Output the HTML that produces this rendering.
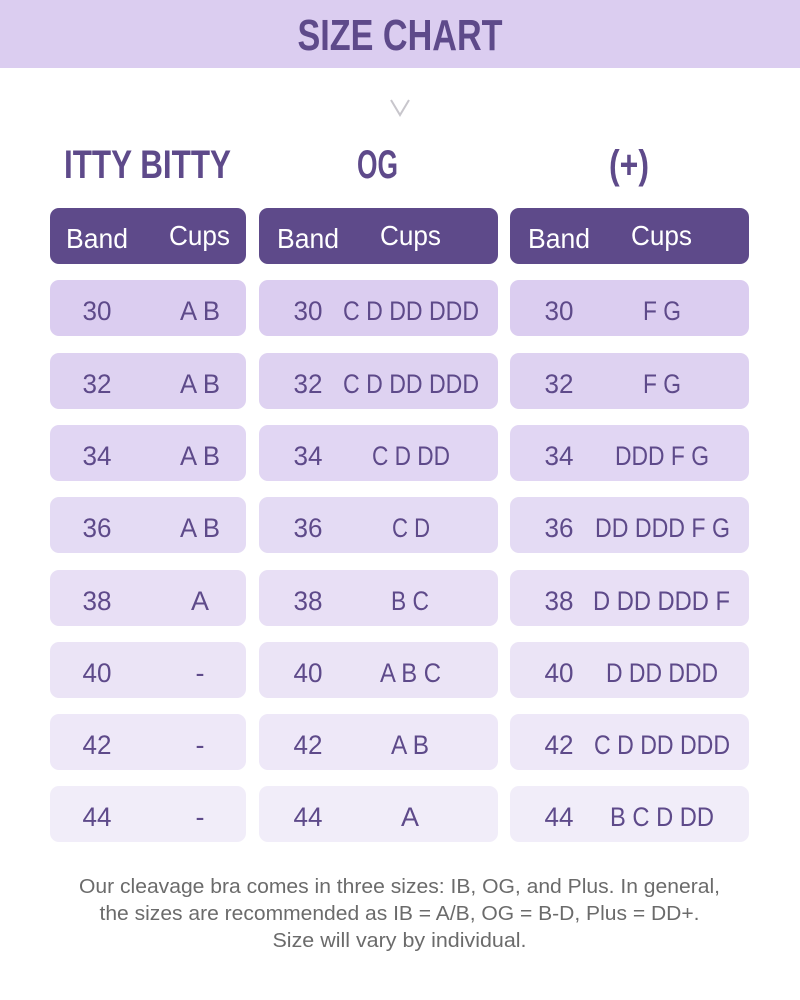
<!DOCTYPE html>
<html><head><meta charset="utf-8"><style>
html,body{margin:0;padding:0;background:#fff;}
svg{display:block;}
text{font-family:"Liberation Sans",sans-serif;}
</style></head><body>
<svg width="800" height="1000" viewBox="0 0 800 1000" xmlns="http://www.w3.org/2000/svg">
<rect x="0" y="0" width="800" height="68" fill="#dbcdf0"/>
<text x="400" y="50" text-anchor="middle" font-size="44" font-weight="bold" fill="#5e4a8a" textLength="205" lengthAdjust="spacingAndGlyphs">SIZE CHART</text>
<polyline points="391,100 400,115 409,100" fill="none" stroke="#c8c6cc" stroke-width="2"/>
<g fill="#5e4a8a" font-size="40" font-weight="bold" text-anchor="middle">
<text x="147.5" y="178" textLength="167" lengthAdjust="spacingAndGlyphs">ITTY BITTY</text>
<text x="377.5" y="178" textLength="41" lengthAdjust="spacingAndGlyphs">OG</text>
<text x="629" y="178" textLength="40" lengthAdjust="spacingAndGlyphs">(+)</text>
</g>
<g fill="#5e4a8a">
<rect x="50" y="208" width="196" height="56" rx="9"/>
<rect x="259" y="208" width="239" height="56" rx="9"/>
<rect x="510" y="208" width="239" height="56" rx="9"/>
</g>
<g fill="#fff" font-size="28" text-anchor="middle">
<text x="97" y="248" textLength="62" lengthAdjust="spacingAndGlyphs">Band</text>
<text x="199.5" y="245" textLength="61" lengthAdjust="spacingAndGlyphs">Cups</text>
<text x="308" y="248" textLength="62" lengthAdjust="spacingAndGlyphs">Band</text>
<text x="410.5" y="245" textLength="61" lengthAdjust="spacingAndGlyphs">Cups</text>
<text x="559" y="248" textLength="62" lengthAdjust="spacingAndGlyphs">Band</text>
<text x="661.5" y="245" textLength="61" lengthAdjust="spacingAndGlyphs">Cups</text>
</g>
<g>
<g fill="#dbcdf0"><rect x="50" y="280" width="196" height="56" rx="9"/><rect x="259" y="280" width="239" height="56" rx="9"/><rect x="510" y="280" width="239" height="56" rx="9"/></g>
<g fill="#ded2f1"><rect x="50" y="353" width="196" height="56" rx="9"/><rect x="259" y="353" width="239" height="56" rx="9"/><rect x="510" y="353" width="239" height="56" rx="9"/></g>
<g fill="#e1d6f3"><rect x="50" y="425" width="196" height="56" rx="9"/><rect x="259" y="425" width="239" height="56" rx="9"/><rect x="510" y="425" width="239" height="56" rx="9"/></g>
<g fill="#e4dbf4"><rect x="50" y="497" width="196" height="56" rx="9"/><rect x="259" y="497" width="239" height="56" rx="9"/><rect x="510" y="497" width="239" height="56" rx="9"/></g>
<g fill="#e8dff5"><rect x="50" y="570" width="196" height="56" rx="9"/><rect x="259" y="570" width="239" height="56" rx="9"/><rect x="510" y="570" width="239" height="56" rx="9"/></g>
<g fill="#ebe4f6"><rect x="50" y="642" width="196" height="56" rx="9"/><rect x="259" y="642" width="239" height="56" rx="9"/><rect x="510" y="642" width="239" height="56" rx="9"/></g>
<g fill="#eee8f8"><rect x="50" y="714" width="196" height="56" rx="9"/><rect x="259" y="714" width="239" height="56" rx="9"/><rect x="510" y="714" width="239" height="56" rx="9"/></g>
<g fill="#f1edf9"><rect x="50" y="786" width="196" height="56" rx="9"/><rect x="259" y="786" width="239" height="56" rx="9"/><rect x="510" y="786" width="239" height="56" rx="9"/></g>
</g>
<g fill="#5e4a8a" font-size="27" text-anchor="middle">
<text x="97" y="320" textLength="29" lengthAdjust="spacingAndGlyphs">30</text>
<text x="308" y="320" textLength="29" lengthAdjust="spacingAndGlyphs">30</text>
<text x="559" y="320" textLength="29" lengthAdjust="spacingAndGlyphs">30</text>
<text x="97" y="393" textLength="29" lengthAdjust="spacingAndGlyphs">32</text>
<text x="308" y="393" textLength="29" lengthAdjust="spacingAndGlyphs">32</text>
<text x="559" y="393" textLength="29" lengthAdjust="spacingAndGlyphs">32</text>
<text x="97" y="465" textLength="29" lengthAdjust="spacingAndGlyphs">34</text>
<text x="308" y="465" textLength="29" lengthAdjust="spacingAndGlyphs">34</text>
<text x="559" y="465" textLength="29" lengthAdjust="spacingAndGlyphs">34</text>
<text x="97" y="537" textLength="29" lengthAdjust="spacingAndGlyphs">36</text>
<text x="308" y="537" textLength="29" lengthAdjust="spacingAndGlyphs">36</text>
<text x="559" y="537" textLength="29" lengthAdjust="spacingAndGlyphs">36</text>
<text x="97" y="610" textLength="29" lengthAdjust="spacingAndGlyphs">38</text>
<text x="308" y="610" textLength="29" lengthAdjust="spacingAndGlyphs">38</text>
<text x="559" y="610" textLength="29" lengthAdjust="spacingAndGlyphs">38</text>
<text x="97" y="682" textLength="29" lengthAdjust="spacingAndGlyphs">40</text>
<text x="308" y="682" textLength="29" lengthAdjust="spacingAndGlyphs">40</text>
<text x="559" y="682" textLength="29" lengthAdjust="spacingAndGlyphs">40</text>
<text x="97" y="754" textLength="29" lengthAdjust="spacingAndGlyphs">42</text>
<text x="308" y="754" textLength="29" lengthAdjust="spacingAndGlyphs">42</text>
<text x="559" y="754" textLength="29" lengthAdjust="spacingAndGlyphs">42</text>
<text x="97" y="826" textLength="29" lengthAdjust="spacingAndGlyphs">44</text>
<text x="308" y="826" textLength="29" lengthAdjust="spacingAndGlyphs">44</text>
<text x="559" y="826" textLength="29" lengthAdjust="spacingAndGlyphs">44</text>
<text x="200" y="320" textLength="40" lengthAdjust="spacingAndGlyphs">A B</text>
<text x="200" y="393" textLength="40" lengthAdjust="spacingAndGlyphs">A B</text>
<text x="200" y="465" textLength="40" lengthAdjust="spacingAndGlyphs">A B</text>
<text x="200" y="537" textLength="40" lengthAdjust="spacingAndGlyphs">A B</text>
<text x="200" y="610" textLength="18" lengthAdjust="spacingAndGlyphs">A</text>
<text x="200" y="682">-</text>
<text x="200" y="754">-</text>
<text x="200" y="826">-</text>
<text x="411" y="320" textLength="136" lengthAdjust="spacingAndGlyphs">C D DD DDD</text>
<text x="411" y="393" textLength="136" lengthAdjust="spacingAndGlyphs">C D DD DDD</text>
<text x="411" y="465" textLength="78" lengthAdjust="spacingAndGlyphs">C D DD</text>
<text x="411" y="537" textLength="38" lengthAdjust="spacingAndGlyphs">C D</text>
<text x="410" y="610" textLength="38" lengthAdjust="spacingAndGlyphs">B C</text>
<text x="410.5" y="682" textLength="61" lengthAdjust="spacingAndGlyphs">A B C</text>
<text x="410" y="754" textLength="38" lengthAdjust="spacingAndGlyphs">A B</text>
<text x="410" y="826" textLength="18" lengthAdjust="spacingAndGlyphs">A</text>
<text x="662" y="320" textLength="38" lengthAdjust="spacingAndGlyphs">F G</text>
<text x="662" y="393" textLength="38" lengthAdjust="spacingAndGlyphs">F G</text>
<text x="662" y="465" textLength="94" lengthAdjust="spacingAndGlyphs">DDD F G</text>
<text x="662.5" y="537" textLength="135" lengthAdjust="spacingAndGlyphs">DD DDD F G</text>
<text x="661.5" y="610" textLength="137" lengthAdjust="spacingAndGlyphs">D DD DDD F</text>
<text x="662" y="682" textLength="112" lengthAdjust="spacingAndGlyphs">D DD DDD</text>
<text x="662" y="754" textLength="136" lengthAdjust="spacingAndGlyphs">C D DD DDD</text>
<text x="662" y="826" textLength="104" lengthAdjust="spacingAndGlyphs">B C D DD</text>
</g>
<g fill="#6b6b6b" font-size="20" text-anchor="middle">
<text x="399.5" y="893" textLength="641" lengthAdjust="spacingAndGlyphs">Our cleavage bra comes in three sizes: IB, OG, and Plus. In general,</text>
<text x="399.5" y="920" textLength="600" lengthAdjust="spacingAndGlyphs">the sizes are recommended as IB = A/B, OG = B-D, Plus = DD+.</text>
<text x="399.5" y="947" textLength="254" lengthAdjust="spacingAndGlyphs">Size will vary by individual.</text>
</g>
</svg>
</body></html>
